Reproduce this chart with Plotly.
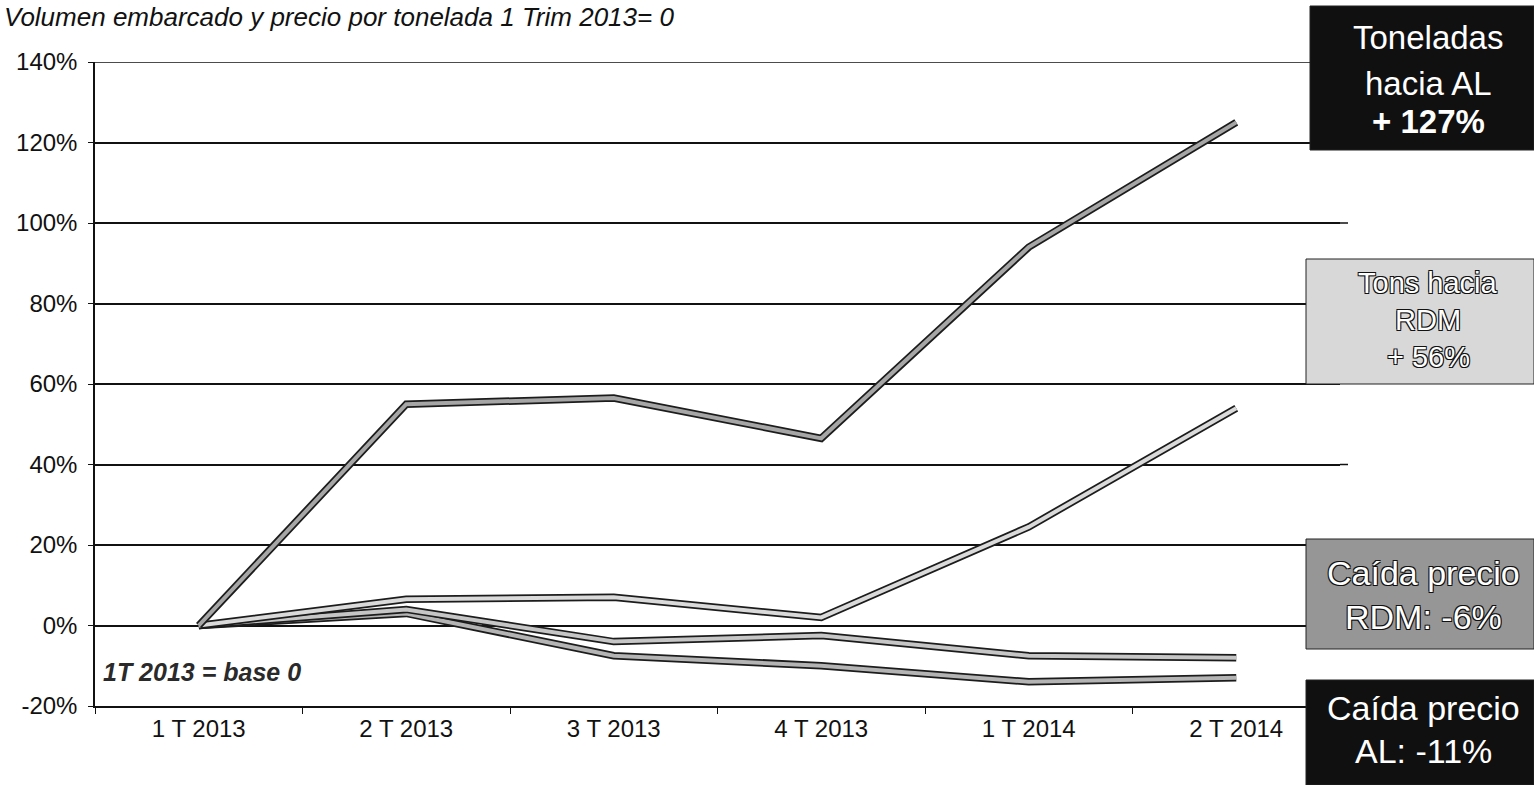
import plotly.graph_objects as go

# Quarters and percentage change vs. 1st quarter 2013
quarters = ["1 T 2013", "2 T 2013", "3 T 2013", "4 T 2013", "1 T 2014", "2 T 2014"]
tons_al = [0, 55, 56.5, 46.5, 94, 125]
tons_rdm = [0, 6.5, 7, 2, 24.5, 54]
price_rdm = [0, 4, -4, -2.5, -7.5, -8]
price_al = [0, 3, -7.5, -10, -14, -13]

y_ticks = [-20, 0, 20, 40, 60, 80, 100, 120, 140]

W, H = 1534, 785
L, R, T, B = 95, 1340, 62, 706  # plot area in pixels


def px(x):
    return (x - L) / (R - L)


def py(y):
    return (B - y) / (B - T)


FONT = "Liberation Sans, Arial, sans-serif"
OUTLINE = "#1c1c1c"

fig = go.Figure()

# each series drawn as a hollow double line: dark outline + light core
series = [
    (price_al, "#b4b4b4"),
    (price_rdm, "#c6c6c6"),
    (tons_rdm, "#dadada"),
    (tons_al, "#a6a6a6"),
]
for vals, core in series:
    fig.add_trace(go.Scatter(x=quarters, y=vals, mode="lines",
                             line=dict(color=OUTLINE, width=7.5),
                             hoverinfo="skip", showlegend=False))
    fig.add_trace(go.Scatter(x=quarters, y=vals, mode="lines",
                             line=dict(color=core, width=4),
                             showlegend=False))

fig.update_layout(
    width=W, height=H,
    margin=dict(l=L, r=W - R, t=T, b=H - B),
    paper_bgcolor="white", plot_bgcolor="white",
    font=dict(family=FONT, color="#111", size=24),
    xaxis=dict(type="category", range=[-0.5, 5.5], showgrid=False,
               showline=True, linecolor="#111", linewidth=1.5,
               ticks="outside", tickson="boundaries", ticklen=6,
               tickcolor="#111", tickfont=dict(size=24)),
    yaxis=dict(range=[-20, 140], tickvals=y_ticks,
               ticktext=[f"{v}%" for v in y_ticks],
               showgrid=True, gridcolor="#111", gridwidth=1.5,
               zeroline=False, showline=True, linecolor="#111",
               linewidth=1.5, ticks="outside", ticklen=5,
               tickcolor="#111", ticklabelstandoff=6,
               tickfont=dict(size=24)),
)

# top gridline at 140%
fig.add_shape(type="line", xref="paper", yref="y", x0=0, x1=1,
              y0=140, y1=140, line=dict(color="#111", width=1.5))
# a couple of gridlines run slightly past the plot edge
for gy in (100, 40):
    fig.add_shape(type="line", xref="paper", yref="y", x0=1, x1=px(1348),
                  y0=gy, y1=gy, line=dict(color="#111", width=1.5))

# chart subtitle
fig.add_annotation(xref="paper", yref="paper", x=px(2), y=py(17),
                   xanchor="left", yanchor="middle", showarrow=False,
                   text="Volumen embarcado y precio por tonelada 1 Trim 2013= 0",
                   font=dict(size=26, style="italic", color="#111"))

# base note
fig.add_annotation(xref="paper", yref="paper", x=px(101), y=py(672),
                   xanchor="left", yanchor="middle", showarrow=False,
                   text="1T 2013 = base 0",
                   font=dict(size=25, style="italic", weight="bold", color="#2a2a2a"))

# callout boxes on the right
halo = ("1px 1px 0 #111, -1px -1px 0 #111, 1px -1px 0 #111, -1px 1px 0 #111")
boxes = [
    # (x0, y0, x1, y1, fill, lines, centre-x, line centres, size)
    (1310, 6, 1534, 150, "#101010",
     ["Toneladas", "hacia AL", "<b>+ 127%</b>"], 1428, [38, 83, 122], 33),
    (1306, 259, 1534, 384, "#d8d8d8",
     ["Tons hacia", "RDM", "+ 56%"], 1428, [283, 320, 357], 29),
    (1306, 539, 1534, 649, "#969696",
     ["Caída precio", "RDM: -6%"], 1423, [573, 617], 34),
    (1306, 680, 1534, 785, "#101010",
     ["Caída precio", "AL: -11%"], 1423, [708, 751], 34),
]
for x0, y0, x1, y1, fill, lines, cx, cys, size in boxes:
    fig.add_shape(type="rect", xref="paper", yref="paper",
                  x0=px(x0), x1=px(x1), y0=py(y1), y1=py(y0),
                  fillcolor=fill, line=dict(color="#222", width=1),
                  layer="above")
    for txt, cy in zip(lines, cys):
        fig.add_annotation(xref="paper", yref="paper", x=px(cx), y=py(cy),
                           xanchor="center", yanchor="middle", showarrow=False,
                           text=txt,
                           font=dict(size=size, color="white", shadow=halo))

fig.write_html("out.html")
